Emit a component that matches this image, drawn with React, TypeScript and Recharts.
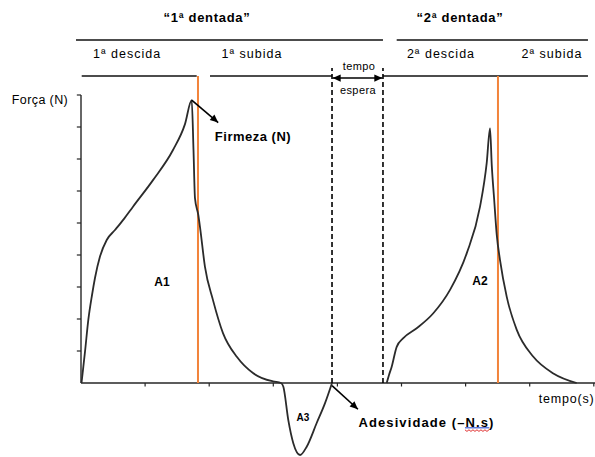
import React from 'react';
import { LineChart, Line, XAxis, YAxis, ReferenceLine, ReferenceDot } from 'recharts';

// first bite (compression 1 + adhesiveness lobe)
const bite1Time = [0.008, 0.031, 0.062, 0.114, 0.172, 0.218, 0.296, 0.401, 0.53, 0.671, 0.811, 1.123, 1.435, 1.622, 1.727,
  1.755, 1.778, 1.83, 1.856, 1.934, 2.059, 2.215, 2.434, 2.683, 2.995, 3.12,
  3.157, 3.234, 3.312, 3.417, 3.521, 3.677, 3.807, 3.916];
const bite1Force = [0, 0.41, 0.97, 1.97, 2.75, 3.28, 3.95, 4.47, 4.78, 5.13, 5.51, 6.34, 7.28, 8.09, 8.84,
  7.28, 5.78, 5.25, 4.88, 3.63, 2.59, 1.56, 0.81, 0.31, 0.05, 0,
  -0.12, -1.16, -1.88, -2.25, -1.99, -1.25, -0.63, 0];

// second bite
const bite2Time = [4.769, 4.805, 4.847, 4.925, 5.028, 5.237, 5.496, 5.757, 6.017, 6.225, 6.329, 6.381,
  6.408, 6.444, 6.486, 6.537, 6.642, 6.798, 7.057, 7.369, 7.733];
const bite2Force = [0, 0.25, 0.51, 1.13, 1.4, 1.71, 2.18, 2.91, 4.05, 5.51, 6.87, 7.96,
  6.81, 5.78, 4.63, 3.84, 2.69, 1.66, 0.82, 0.3, 0];

const xTicks = [1, 2, 3, 4, 5, 6, 7, 8];
const yTicks = [1, 2, 3, 4, 5, 6, 7, 8, 9];

const peak1 = 1.825; // orange marker, end of 1st descent
const peak2 = 6.505;
const waitStart = 3.916;
const waitEnd = 4.711;

const bite1 = bite1Time.map((t, i) => ({ time: t, force: bite1Force[i] }));
const bite2 = bite2Time.map((t, i) => ({ time: t, force: bite2Force[i] }));

const FONT = '"Liberation Sans", Arial, sans-serif';
const INK = '#262626';
const ORANGE = '#f2843a';

type Note = { text: string; x: number; y: number; size: number; bold?: boolean; anchor?: 'start' | 'middle' | 'end'; spacing?: number };

const notes: Note[] = [
  { text: '\u201C1\u00AA dentada\u201D', x: 1.966, y: 11.43, size: 13, bold: true, spacing: 0.7 },
  { text: '\u201C2\u00AA dentada\u201D', x: 5.913, y: 11.43, size: 13, bold: true, spacing: 0.7 },
  { text: '1\u00AA  descida', x: 0.718, y: 10.28, size: 12.5, spacing: 1.0 },
  { text: '1\u00AA  subida', x: 2.668, y: 10.28, size: 12.5, spacing: 1.0 },
  { text: '2\u00AA  descida', x: 5.616, y: 10.28, size: 12.5, spacing: 1.0 },
  { text: '2\u00AA  subida', x: 7.348, y: 10.28, size: 12.5, spacing: 1.0 },
  { text: 'tempo', x: 4.337, y: 9.9, size: 11, spacing: 0.4 },
  { text: 'espera', x: 4.321, y: 9.16, size: 11, spacing: 0.4 },
  { text: 'For\u00E7a (N)', x: -0.64, y: 8.84, size: 12.5, spacing: 0.4 },
  { text: 'Firmeza (N)', x: 2.683, y: 7.69, size: 13, bold: true, spacing: 0.5 },
  { text: 'A1', x: 1.264, y: 3.16, size: 12, bold: true },
  { text: 'A2', x: 6.225, y: 3.19, size: 12, bold: true },
  { text: 'A3', x: 3.463, y: -1.09, size: 10, bold: true },
  { text: 'Adesividade (\u2013N.s)', x: 5.39, y: -1.22, size: 13, bold: true, spacing: 1.1 },
  { text: 'tempo(s)', x: 8.01, y: -0.5, size: 12.5, anchor: 'end', spacing: 0.8 },
];

// plain lines drawn in data units: [x1, y1, x2, y2]
const headerLines = [
  [-0.078, 10.72, 4.711, 10.72],
  [4.925, 10.72, 7.909, 10.72],
  [0.011, 9.594, 1.805, 9.594],
  [2.012, 9.594, waitStart, 9.594],
  [waitEnd, 9.594, 7.909, 9.594],
];

const arrowShape = (both: boolean) => (p: any) => {
  const { x1, y1, x2, y2 } = p;
  const head = (hx: number, hy: number, fx: number, fy: number) => {
    const a = Math.atan2(hy - fy, hx - fx);
    const L = 8, W = 3.6;
    const bx = hx - L * Math.cos(a), by = hy - L * Math.sin(a);
    const px = -Math.sin(a) * W, py = Math.cos(a) * W;
    return <polygon points={`${hx},${hy} ${bx + px},${by + py} ${bx - px},${by - py}`} fill="#000" />;
  };
  return (
    <g>
      <line x1={x1} y1={y1} x2={x2} y2={y2} stroke="#000" strokeWidth={1.6} />
      {head(x2, y2, x1, y1)}
      {both && head(x1, y1, x2, y2)}
    </g>
  );
};

// spell-check squiggle under "N.s" as in the source document
const squiggleShape = (p: any) => {
  const { x1, y1, x2 } = p;
  let d = `M${x1},${y1 + 2}`;
  for (let x = x1 + 2, k = 0; x <= x2; x += 2, k++) d += ` L${x},${y1 + (k % 2 ? 2 : 3.6)}`;
  return (
    <g>
      <line x1={x1} y1={y1} x2={x2} y2={y1} stroke="#3b5bd6" strokeWidth={1.2} />
      <path d={d} fill="none" stroke="#e03030" strokeWidth={1} />
    </g>
  );
};

const noteContent = (n: Note) => (props: any) => {
  const vb = props.viewBox || {};
  const cx = (vb.x || 0) + (vb.width || 0) / 2;
  const cy = (vb.y || 0) + (vb.height || 0) / 2;
  return (
    <text x={cx} y={cy} textAnchor={n.anchor || 'middle'} dominantBaseline="central" fontFamily={FONT}
      fontSize={n.size} fontWeight={n.bold ? 700 : 400} letterSpacing={n.spacing || 0} fill="#000">
      {n.text}
    </text>
  );
};

export default function App() {
  return (
    <div style={{ position: 'absolute', left: 0, top: 0, width: 595, height: 457, background: '#fff' }}>
      <LineChart width={595} height={457} margin={{ top: 0, right: 0, bottom: 0, left: 0 }}>
        <XAxis type="number" dataKey="time" domain={[-1.2637, 8.0187]} allowDataOverflow hide />
        <YAxis type="number" dataKey="force" domain={[-2.3125, 11.96875]} allowDataOverflow hide />

        {/* axes */}
        <ReferenceLine segment={[{ x: 0, y: 0 }, { x: 8.0187, y: 0 }]} stroke={INK} strokeWidth={1.4} ifOverflow="visible" />
        <ReferenceLine segment={[{ x: 0, y: 0 }, { x: 0, y: 9 }]} stroke={INK} strokeWidth={1.4} ifOverflow="visible" />
        {yTicks.map((v) => (
          <ReferenceLine key={`yt${v}`} segment={[{ x: -0.065, y: v }, { x: 0, y: v }]} stroke={INK} strokeWidth={1.2} ifOverflow="visible" />
        ))}
        {xTicks.map((v) => (
          <ReferenceLine key={`xt${v}`} segment={[{ x: v, y: 0 }, { x: v, y: -0.11 }]} stroke={INK} strokeWidth={1.2} ifOverflow="visible" />
        ))}

        {/* header rules */}
        {headerLines.map((l, i) => (
          <ReferenceLine key={`h${i}`} segment={[{ x: l[0], y: l[1] }, { x: l[2], y: l[3] }]} stroke="#111" strokeWidth={1.6} ifOverflow="visible" />
        ))}

        {/* waiting time */}
        <ReferenceLine segment={[{ x: waitStart, y: 0 }, { x: waitStart, y: 9.84 }]} stroke="#000" strokeWidth={1.6} strokeDasharray="5 3" ifOverflow="visible" />
        <ReferenceLine segment={[{ x: waitEnd, y: 0 }, { x: waitEnd, y: 9.84 }]} stroke="#000" strokeWidth={1.6} strokeDasharray="5 3" ifOverflow="visible" />
        <ReferenceLine segment={[{ x: waitStart + 0.01, y: 9.53 }, { x: waitEnd - 0.01, y: 9.53 }]} shape={arrowShape(true)} ifOverflow="visible" />

        {/* peak markers */}
        <ReferenceLine segment={[{ x: peak1, y: 0 }, { x: peak1, y: 9.594 }]} stroke={ORANGE} strokeWidth={2} ifOverflow="visible" />
        <ReferenceLine segment={[{ x: peak2, y: 0 }, { x: peak2, y: 9.594 }]} stroke={ORANGE} strokeWidth={2} ifOverflow="visible" />

        <Line data={bite1} dataKey="force" type="monotone" stroke="#2b2b2b" strokeWidth={1.8} dot={false} activeDot={false} isAnimationActive={false} />
        <Line data={bite2} dataKey="force" type="monotone" stroke="#2b2b2b" strokeWidth={1.8} dot={false} activeDot={false} isAnimationActive={false} />

        {/* pointer arrows */}
        <ReferenceLine segment={[{ x: 1.727, y: 8.84 }, { x: 2.14, y: 8.14 }]} shape={arrowShape(false)} ifOverflow="visible" />
        <ReferenceLine segment={[{ x: 3.916, y: -0.08 }, { x: 4.32, y: -0.82 }]} shape={arrowShape(false)} ifOverflow="visible" />

        <ReferenceLine segment={[{ x: 5.99, y: -1.4 }, { x: 6.37, y: -1.4 }]} shape={squiggleShape} ifOverflow="visible" />

        {notes.map((n, i) => (
          <ReferenceDot key={`n${i}`} x={n.x} y={n.y} r={0} fill="none" stroke="none" ifOverflow="visible"
            label={{ content: noteContent(n) }} />
        ))}
      </LineChart>
    </div>
  );
}
